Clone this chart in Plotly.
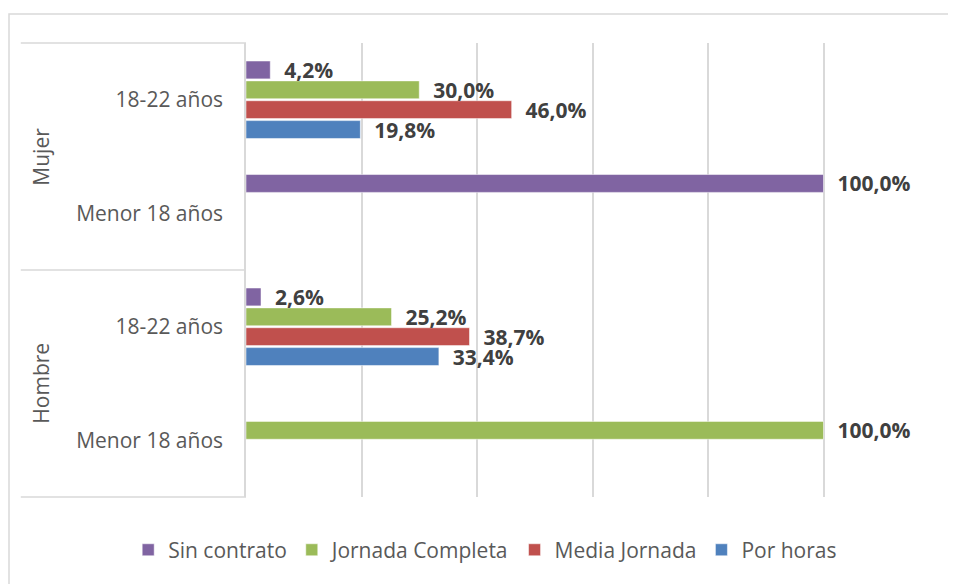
import plotly.graph_objects as go

# categorias de abajo hacia arriba
cat_ids = ["H_men", "H_18", "M_men", "M_18"]
cat_labels = ["Menor 18 años", "18-22 años", "Menor 18 años", "18-22 años"]
grupos = ["Hombre", "Mujer"]

series = ["Por horas", "Media Jornada", "Jornada Completa", "Sin contrato"]
colores = ["#4F81BD", "#C0504D", "#9BBB59", "#8064A2"]

por_horas = [None, 33.4, None, 19.8]
media_jornada = [None, 38.7, None, 46.0]
jornada_completa = [100.0, 25.2, None, 30.0]
sin_contrato = [None, 2.6, 100.0, 4.2]

valores = [por_horas, media_jornada, jornada_completa, sin_contrato]

def etiqueta(v):
    if v is None:
        return ""
    return "  " + ("%.1f%%" % v).replace(".", ",")

fig = go.Figure()
for nombre, col, vals in zip(series, colores, valores):
    fig.add_trace(go.Bar(
        y=cat_ids, x=vals, name=nombre, orientation="h",
        marker=dict(color=col, line=dict(color="white", width=0.5)),
        text=[etiqueta(v) for v in vals], textposition="outside",
        textfont=dict(family="Open Sans", size=21, color="#404040", weight="bold"),
        constraintext="none", cliponaxis=False,
    ))

gris = "#d9d9d9"
# la pagina tiene 8px de margen en body -> ancho/alto reducidos
fig.update_layout(
    width=948, height=576,
    margin=dict(l=238, r=17, t=35, b=87, autoexpand=False),
    paper_bgcolor="white", plot_bgcolor="white",
    barmode="group", bargap=0.3, bargroupgap=0.1,
    font=dict(family="Open Sans", size=21, color="#595959"),
    legend=dict(orientation="h", traceorder="reversed",
                x=-0.17, xanchor="left", y=-0.117, yanchor="middle",
                font=dict(size=21, color="#595959"),
                itemwidth=30, tracegroupgap=0),
    showlegend=True,
)
fig.update_xaxes(range=[0, 120], dtick=20, showticklabels=False,
                 showgrid=True, gridcolor=gris, gridwidth=1.5, zeroline=False)
fig.update_yaxes(type="category", categoryorder="array", categoryarray=cat_ids,
                 tickvals=cat_ids, ticktext=cat_labels,
                 showline=True, linecolor=gris, linewidth=1.5,
                 ticks="", ticklabelstandoff=17, showgrid=False)

# lineas divisorias de grupos
for yy in [0, 0.5, 1]:
    fig.add_shape(type="line", xref="paper", yref="paper",
                  x0=-0.325, x1=0, y0=yy, y1=yy,
                  line=dict(color=gris, width=1.5))

# nombres de grupo rotados
for g, yc in zip(grupos, [0.25, 0.75]):
    fig.add_annotation(text=g, xref="paper", yref="paper", x=-0.297, y=yc,
                       xanchor="center", yanchor="middle",
                       textangle=-90, showarrow=False,
                       font=dict(size=21, color="#595959"))

# borde del grafico
fig.add_shape(type="rect", xref="paper", yref="paper",
              x0=-0.342, x1=2, y0=-1, y1=1.064,
              line=dict(color=gris, width=1.5), layer="below")

fig.write_html("out.html")
